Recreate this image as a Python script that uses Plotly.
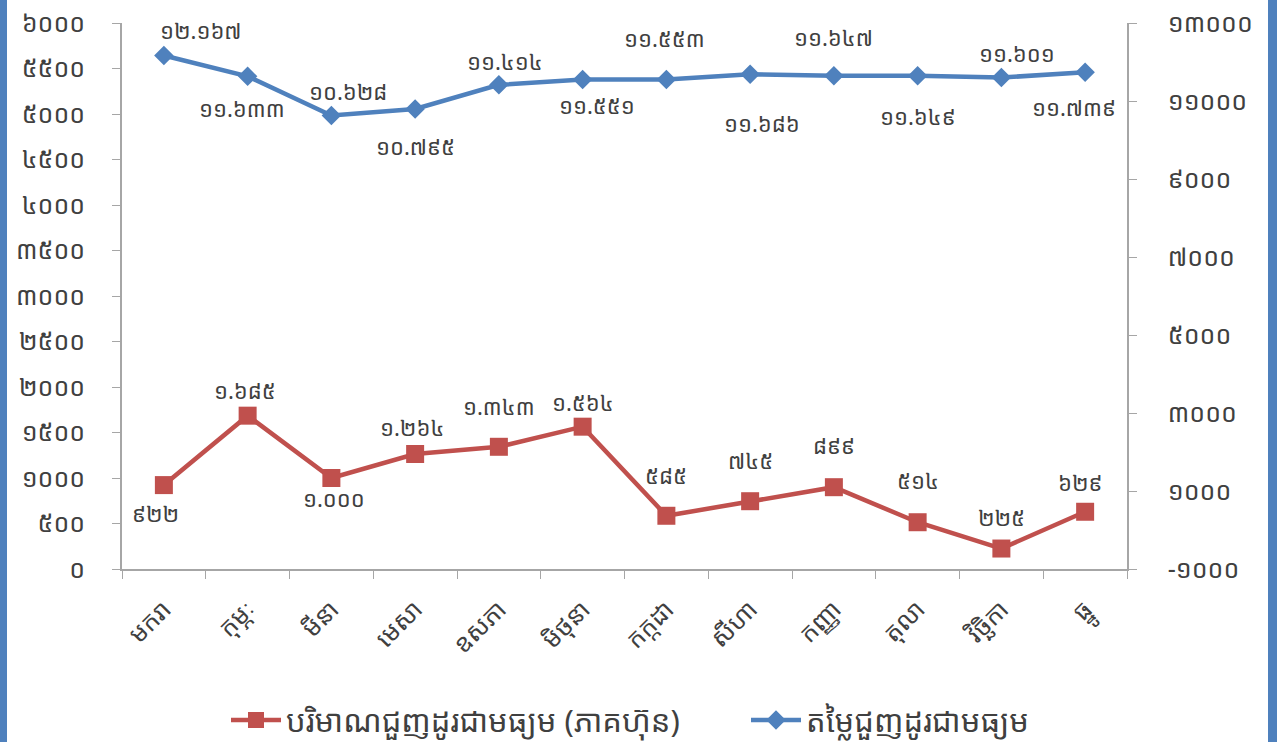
import plotly.graph_objects as go

months = ["មករា", "កុម្ភៈ", "មីនា", "មេសា", "ឧសភា", "មិថុនា",
          "កក្កដា", "សីហា", "កញ្ញា", "តុលា", "វិច្ឆិកា", "ធ្នូ"]
volume = [922, 1685, 1000, 1264, 1343, 1564, 585, 745, 899, 514, 225, 629]
value = [12167, 11633, 10628, 10795, 11414, 11551, 11553, 11686, 11647, 11649, 11601, 11739]
left_ticks = list(range(0, 6001, 500))
right_ticks = list(range(-1000, 13001, 2000))
name_volume = "បរិមាណជួញដូរជាមធ្យម (ភាគហ៊ុន)"
name_value = "តម្លៃជួញដូរជាមធ្យម"

# label offsets (pixels) relative to each point
volume_shift = [(-8, -28), (-3, 26), (3, -20), (-3, 27), (0, 41), (0, 25),
                (0, 41), (0, 41), (0, 42), (0, 42), (0, 32), (-5, 30)]
value_shift = [(37, 25), (-6, -32), (17, 25), (0, -37), (6, 24), (14, -25),
               (-2, 41), (12, -49), (0, 39), (0, -40), (16, 25), (-11, -35)]

KD = str.maketrans("0123456789", "០១២៣៤៥៦៧៨៩")


def kh(n, sep=False):
    s = f"{n:,}".replace(",", ".") if sep else str(n)
    return s.translate(KD)


FONT = "Noto Sans Khmer, Khmer OS, DejaVu Sans, sans-serif"
RED = "#C0504D"
BLUE = "#4F81BD"
GRAY = "#A6A6A6"
LABEL = "#404040"

fig = go.Figure()
fig.add_trace(go.Scatter(
    x=months, y=volume, name=name_volume, mode="lines+markers", legend="legend",
    line=dict(color=RED, width=4.5),
    marker=dict(symbol="square", size=18, color=RED),
    cliponaxis=False,
))
fig.add_trace(go.Scatter(
    x=months, y=value, name=name_value, mode="lines+markers", yaxis="y2", legend="legend2",
    line=dict(color=BLUE, width=4.5),
    marker=dict(symbol="diamond", size=15, color=BLUE),
    cliponaxis=False,
))

annotations = []
for m, v, (dx, dy) in zip(months, volume, volume_shift):
    annotations.append(dict(x=m, y=v, xref="x", yref="y", text=kh(v, True), showarrow=False,
                            xshift=dx, yshift=dy, font=dict(size=22, color=LABEL, family=FONT)))
for m, v, (dx, dy) in zip(months, value, value_shift):
    annotations.append(dict(x=m, y=v, xref="x", yref="y2", text=kh(v, True), showarrow=False,
                            xshift=dx, yshift=dy, font=dict(size=22, color=LABEL, family=FONT)))

legend_style = dict(orientation="h", xanchor="left", y=-0.277, yanchor="middle",
                    font=dict(size=31, color=LABEL), itemwidth=50, bgcolor="rgba(0,0,0,0)")

fig.update_layout(
    width=1277, height=742,
    margin=dict(l=122, r=150, t=23, b=173, autoexpand=False),
    paper_bgcolor="white", plot_bgcolor="white",
    font=dict(family=FONT, color=LABEL, size=22),
    showlegend=True,
    legend=dict(x=(226 - 122) / 1005, **legend_style),
    legend2=dict(x=(746 - 122) / 1005, **legend_style),
    annotations=annotations,
    xaxis=dict(range=[-0.5, 11.5], showline=True, linecolor=GRAY, linewidth=1.5,
               ticks="outside", ticklen=8, tickcolor=GRAY, tickangle=-45,
               tickfont=dict(size=25), showgrid=False, zeroline=False,
               tickson="boundaries", automargin=False, ticklabelstandoff=14),
    yaxis=dict(range=[0, 6000], tickvals=left_ticks, ticktext=[kh(v) for v in left_ticks],
               showline=True, linecolor=GRAY, linewidth=1.5, ticks="outside", ticklen=8,
               tickcolor=GRAY, showgrid=False, zeroline=False, tickfont=dict(size=25),
               automargin=False, ticklabelstandoff=22),
    yaxis2=dict(range=[-1000, 13000], tickvals=right_ticks,
                ticktext=[("-" + kh(-v)) if v < 0 else kh(v) for v in right_ticks],
                overlaying="y", side="right", showline=True, linecolor=GRAY, linewidth=1.5,
                ticks="outside", ticklen=8, tickcolor=GRAY, showgrid=False, zeroline=False,
                tickfont=dict(size=25), ticklabelstandoff=26, automargin=False),
    shapes=[
        dict(type="rect", xref="paper", yref="paper", x0=-122/1005, x1=-115/1005,
             y0=-173/546, y1=1 + 23/546, fillcolor=BLUE, line=dict(width=0)),
        dict(type="rect", xref="paper", yref="paper", x0=1 + 141/1005, x1=1 + 150/1005,
             y0=-173/546, y1=1 + 23/546, fillcolor=BLUE, line=dict(width=0)),
    ],
)

fig.write_html("out.html", config={"displayModeBar": False},
               post_script="document.body.style.margin='0';document.body.style.overflow='hidden';")
